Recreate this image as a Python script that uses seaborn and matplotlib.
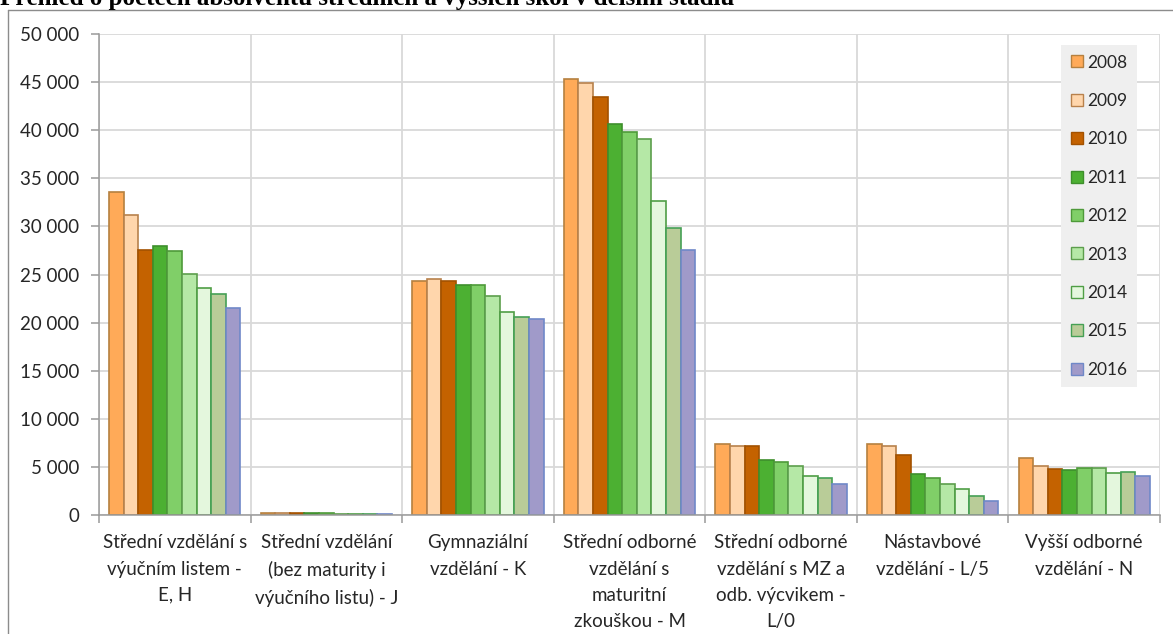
import matplotlib
matplotlib.use("Agg")
import matplotlib.pyplot as plt
import matplotlib.patches as mpatches
from matplotlib.ticker import FuncFormatter, FixedLocator
import seaborn as sns
import pandas as pd
import numpy as np

# --- data -------------------------------------------------------------------
categories = [
    "Střední vzdělání s\nvýučním listem -\nE, H",
    "Střední vzdělání\n(bez maturity i\nvýučního listu) - J",
    "Gymnaziální\nvzdělání - K",
    "Střední odborné\nvzdělání s\nmaturitní\nzkouškou - M",
    "Střední odborné\nvzdělání s MZ a\nodb. výcvikem -\nL/0",
    "Nástavbové\nvzdělání - L/5",
    "Vyšší odborné\nvzdělání - N",
]
years = ["2008", "2009", "2010", "2011", "2012", "2013", "2014", "2015", "2016"]

v2008 = [33600, 200, 24300, 45300, 7400, 7400, 5900]
v2009 = [31200, 190, 24500, 44900, 7200, 7200, 5100]
v2010 = [27500, 180, 24350, 43500, 7200, 6200, 4800]
v2011 = [27950, 170, 23900, 40600, 5700, 4300, 4700]
v2012 = [27400, 160, 23900, 39850, 5500, 3800, 4900]
v2013 = [25100, 150, 22800, 39100, 5100, 3200, 4900]
v2014 = [23600, 140, 21050, 32600, 4100, 2700, 4400]
v2015 = [23000, 130, 20550, 29800, 3800, 2000, 4500]
v2016 = [21500, 120, 20350, 27500, 3200, 1500, 4100]
series = [v2008, v2009, v2010, v2011, v2012, v2013, v2014, v2015, v2016]

title = "Přehled o počtech absolventů středních a vyšších škol v delším stadiu"

face_colors = ["#FFAA58", "#FFD6AC", "#C46200", "#4CB032", "#80CF68",
               "#B5E8A6", "#E4F7DD", "#B9CC98", "#A09AC9"]
edge_colors = ["#B5803F", "#B8814C", "#A35200", "#3E8F2C", "#4E9A3A",
               "#5C9E4C", "#4F9E45", "#45A055", "#6F88C8"]

df = pd.DataFrame(
    [(c, y, v) for y, vals in zip(years, series) for c, v in zip(categories, vals)],
    columns=["kategorie", "rok", "pocet"],
)

# --- figure -----------------------------------------------------------------
sns.set_theme(style="white")
plt.rcParams["font.family"] = ["Lato", "DejaVu Sans"]

W, H = 1173, 634
fig = plt.figure(figsize=(W / 100, H / 100), dpi=100)

ax_left, ax_right, ax_top, ax_bottom = 99, 1160, 34, 515
ax = fig.add_axes([ax_left / W, 1 - ax_bottom / H,
                   (ax_right - ax_left) / W, (ax_bottom - ax_top) / H])

sns.barplot(data=df, x="kategorie", y="pocet", hue="rok",
            order=categories, hue_order=years, palette=face_colors,
            width=0.867, gap=0, ax=ax, legend=False, errorbar=None,
            linewidth=1.2, saturation=1)

for cont, ec in zip(ax.containers, edge_colors):
    for bar in cont:
        bar.set_edgecolor(ec)
        bar.set_linewidth(1.2)

ax.set_ylim(0, 50000)
ax.set_xlim(-0.5, len(categories) - 0.5)
ax.set_yticks(np.arange(0, 50001, 5000))
ax.yaxis.set_major_formatter(FuncFormatter(lambda v, p: f"{int(v):,}".replace(",", " ")))

grid_c = "#D9D9D9"
ax.yaxis.grid(True, color=grid_c, linewidth=1.3)
ax.xaxis.set_minor_locator(FixedLocator(np.arange(-0.5, len(categories), 1.0)))
ax.xaxis.grid(True, which="minor", color=grid_c, linewidth=1.3)
ax.xaxis.grid(False, which="major")
ax.set_axisbelow(True)

for s in ["top", "right"]:
    ax.spines[s].set_visible(False)
for s in ["left", "bottom"]:
    ax.spines[s].set_color("#9A9A9A")
    ax.spines[s].set_linewidth(1.1)

ax.tick_params(axis="y", which="major", length=6, width=1.1, color="#9A9A9A",
               labelsize=13.5, labelcolor="#262626", pad=8, left=True)
ax.tick_params(axis="x", which="major", length=0, pad=14,
               labelsize=13.5, labelcolor="#262626")
ax.tick_params(axis="x", which="minor", length=6, width=1.1, color="#9A9A9A",
               bottom=True)
for lbl in ax.get_xticklabels():
    lbl.set_linespacing(1.65)
    lbl.set_va("top")

ax.set_xlabel("")
ax.set_ylabel("")

# legend
handles = [mpatches.Patch(facecolor=f, edgecolor=e, linewidth=1.0, label=y)
           for f, e, y in zip(face_colors, edge_colors, years)]
leg = ax.legend(handles=handles, loc="upper right",
                bbox_to_anchor=((1137 - ax_left) / (ax_right - ax_left),
                                (ax_bottom - 45) / (ax_bottom - ax_top)),
                frameon=True, fancybox=False, framealpha=1,
                facecolor="#EFEFEF", edgecolor="none",
                fontsize=12.5, handlelength=0.69, handleheight=0.69,
                handletextpad=0.25, labelspacing=1.29, borderpad=0.55,
                borderaxespad=0)
for t in leg.get_texts():
    t.set_color("#262626")

# outer chart border
fig.add_artist(plt.Line2D([8 / W, 8 / W], [0, 1 - 10 / H],
                          transform=fig.transFigure, color="#8C8C8C", lw=1.0))
fig.add_artist(plt.Line2D([8 / W, 1.0], [1 - 10 / H, 1 - 10 / H],
                          transform=fig.transFigure, color="#8C8C8C", lw=1.0))

# heading
fig.text(0.0, 1 - 5 / H, title, ha="left", va="baseline",
         fontsize=18, fontweight="bold", family="Liberation Serif", color="black")

fig.savefig("out.png", dpi=100, facecolor="white")
